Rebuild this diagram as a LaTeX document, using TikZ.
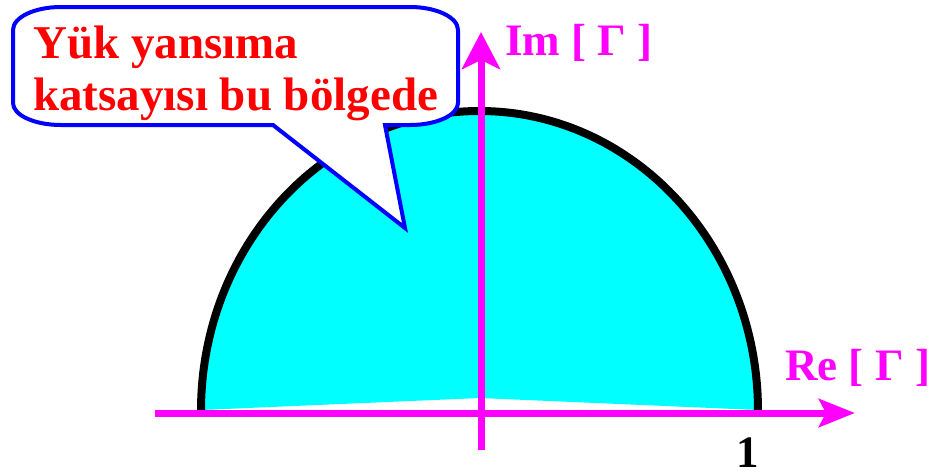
\documentclass[tikz,border=0pt]{standalone}
\usepackage{fontspec}
\setmainfont{Liberation Serif}
\usetikzlibrary{arrows.meta}
\definecolor{mag}{RGB}{255,0,255}
\definecolor{cyn}{RGB}{0,255,255}
\definecolor{blu}{RGB}{0,0,255}
\definecolor{rd}{RGB}{255,0,0}
\begin{document}
\begin{tikzpicture}[x=1pt,y=-1pt,
  axisline/.style={draw=mag, line width=7pt},
  lbl/.style={inner sep=0pt, anchor=base west, font=\bfseries\fontsize{45}{52}\selectfont},
  calltext/.style={inner sep=0pt, anchor=base west, text=rd, font=\bfseries\fontsize{47}{52}\selectfont}]
\useasboundingbox (0,0) rectangle (932,475);
% region
\fill[cyn] (201,410) arc[start angle=180,end angle=360,x radius=278.5,y radius=300] -- (480,398) -- cycle;
\draw[black, line width=8pt] (201,411) arc[start angle=180,end angle=360,x radius=278.5,y radius=300];
% axes
\coordinate (hs) at (155,413);
\coordinate (he) at (855,413);
\coordinate (vs) at (481,450);
\coordinate (ve) at (481,32);
\draw[axisline, -{Stealth[length=36pt,width=28pt,inset=7pt]}] (hs) -- (he);
\draw[axisline, -{Stealth[length=37pt,width=38pt,inset=9pt]}] (vs) -- (ve);
\node[lbl, text=mag] (im) at (505,55) {Im [ Γ ]};
\node[lbl, text=mag] (re) at (785,380) {Re [ Γ ]};
\node[lbl, text=black, anchor=base, text depth=0pt] (one) at (748,467) {1};
% callout
\draw[blu, line width=4pt, fill=white, line join=miter]
  (13,30) -- (13,103) arc[start angle=180,end angle=90,x radius=48,y radius=22]
  -- (273,125) -- (405,228) -- (385,125) -- (410,125)
  arc[start angle=90,end angle=0,x radius=48,y radius=22]
  -- (458,30) arc[start angle=0,end angle=-90,x radius=48,y radius=23]
  -- (61,7) arc[start angle=-90,end angle=-180,x radius=48,y radius=23] -- cycle;
\node[calltext] (t1) at (33,58) {Yük yansıma};
\node[calltext] (t2) at (33,110) {katsayısı bu bölgede};
\end{tikzpicture}
\end{document}
